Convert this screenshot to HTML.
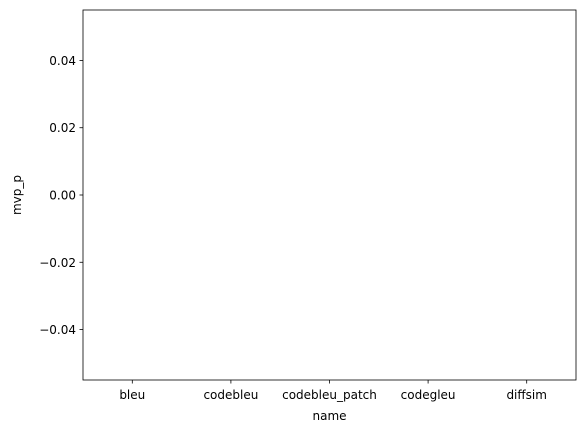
<!DOCTYPE html>
<html><head><meta charset="utf-8"><style>
html,body{margin:0;padding:0;background:#fff;}
svg{display:block;font-family:"DejaVu Sans","Liberation Sans",sans-serif;}
</style></head><body>
<svg id="chart" width="587" height="433" viewBox="0 0 587 433"></svg>
<script>
const categories = ["bleu","codebleu","codebleu_patch","codegleu","diffsim"];
const values = [0,0,0,0,0];
const yTicks = [0.04,0.02,0.00,-0.02,-0.04];
const yTickLabels = ["0.04","0.02","0.00","−0.02","−0.04"];

const svg = document.getElementById('chart');
const NS = 'http://www.w3.org/2000/svg';
const L = 83, R = 576, T = 10, B = 380;
const yMin = -0.055, yMax = 0.055;
function xScale(i){ return L + (i + 0.5) * (R - L) / categories.length; }
function yScale(v){ return B - (v - yMin) / (yMax - yMin) * (B - T); }
function mk(tag, attrs){ const e = document.createElementNS(NS, tag); for (const k in attrs) e.setAttribute(k, attrs[k]); svg.appendChild(e); return e; }

const bw = 0.8 * (R - L) / categories.length;
values.forEach((v, i) => {
  const y0 = yScale(0), y1 = yScale(v);
  const r = mk('rect', {x: xScale(i) - bw/2, y: Math.min(y0,y1), width: bw, height: Math.abs(y1-y0), fill: '#1f77b4'});
  
  
});

const frame = mk('rect', {x: L, y: T, width: R-L, height: B-T, fill: 'none', stroke: '#000', 'stroke-width': 0.8});



yTicks.forEach((t, i) => {
  const y = yScale(t);
  const tk = mk('line', {x1: L-3.5, x2: L, y1: y, y2: y, stroke: '#000', 'stroke-width': 0.8});
  
  
  const tx = mk('text', {x: L-7, y: y+4.5, 'text-anchor': 'end', 'font-size': 12, fill: '#000'});
  tx.textContent = yTickLabels[i];
  
  
});

categories.forEach((c, i) => {
  const x = xScale(i);
  const tk = mk('line', {x1: x, x2: x, y1: B, y2: B+3.5, stroke: '#000', 'stroke-width': 0.8});
  
  
  const tx = mk('text', {x: x, y: B+19, 'text-anchor': 'middle', 'font-size': 12, fill: '#000'});
  tx.textContent = c;
  
  
});

const xt = mk('text', {x: (L+R)/2, y: 420, 'text-anchor': 'middle', 'font-size': 12, fill: '#000'});
xt.textContent = 'name';



const yt = mk('text', {x: 0, y: 0, 'text-anchor': 'middle', 'font-size': 12, fill: '#000', transform: 'translate(21,' + ((T+B)/2) + ') rotate(-90)'});
yt.textContent = 'mvp_p';


</script>
</body></html>
